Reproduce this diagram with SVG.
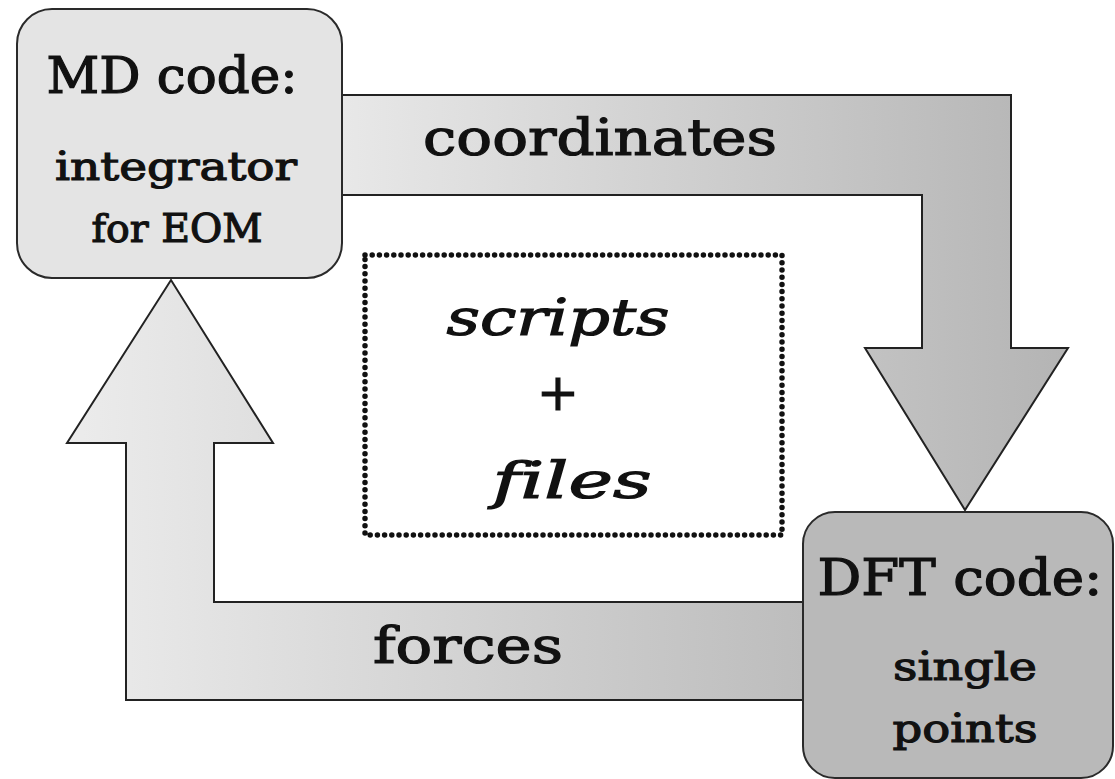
<svg xmlns="http://www.w3.org/2000/svg" width="1115" height="779" viewBox="0 0 1115 779">
<style>
.arrow{stroke:#222;stroke-width:2;stroke-linejoin:miter}
.box{stroke:#2a2a2a;stroke-width:2}
.t{font-family:"DejaVu Serif","Liberation Serif",serif;fill:#111;text-anchor:middle;stroke:#111;stroke-width:1.2;font-variant-ligatures:none}
.big{font-size:50px}
.small{font-size:40px}
.it{font-style:italic}
</style>
<defs>
<linearGradient id="gTop" gradientUnits="userSpaceOnUse" x1="342" y1="0" x2="1068" y2="0">
<stop offset="0" stop-color="#e8e8e8"/><stop offset="1" stop-color="#b4b4b4"/>
</linearGradient>
<linearGradient id="gBot" gradientUnits="userSpaceOnUse" x1="67" y1="0" x2="803" y2="0">
<stop offset="0" stop-color="#ececec"/><stop offset="1" stop-color="#bdbdbd"/>
</linearGradient>
</defs>
<g id="connectors">
<polygon class="arrow" fill="url(#gTop)" points="342,95 1011,95 1011,348 1068,348 965,510 865,348 922,348 922,195 342,195"/>
<polygon class="arrow" fill="url(#gBot)" points="803,602 214,602 214,443 273,443 171,280 67,443 126,443 126,700 803,700"/>
<text class="t big" x="600" y="155" textLength="354" lengthAdjust="spacingAndGlyphs">coordinates</text>
<text class="t big" x="468" y="663" textLength="190" lengthAdjust="spacingAndGlyphs">forces</text>
</g>
<g id="md">
<rect class="box" x="17" y="9" width="325" height="269" rx="35" fill="#e4e4e4"/>
<text class="t big" x="172" y="93" textLength="251" lengthAdjust="spacingAndGlyphs">MD code:</text>
<text class="t small" x="176" y="180" textLength="242" lengthAdjust="spacingAndGlyphs">integrator</text>
<text class="t small" x="177" y="242" textLength="171" lengthAdjust="spacingAndGlyphs">for EOM</text>
</g>
<g id="dft">
<rect class="box" x="803" y="512" width="310" height="266" rx="32" fill="#b9b9b9"/>
<text class="t big" x="960" y="595" textLength="285" lengthAdjust="spacingAndGlyphs">DFT code:</text>
<text class="t small" x="965" y="680" textLength="144" lengthAdjust="spacingAndGlyphs">single</text>
<text class="t small" x="965" y="742" textLength="145" lengthAdjust="spacingAndGlyphs">points</text>
</g>
<g id="scripts">
<rect x="365" y="255" width="417" height="280" fill="none" stroke="#111" stroke-width="5.5" stroke-linecap="round" stroke-dasharray="0 7.2"/>
<text class="t big it" x="558" y="335" textLength="223" lengthAdjust="spacingAndGlyphs">scripts</text>
<text class="t big it" x="558" y="410">+</text>
<text class="t big it" x="572" y="498" textLength="159" lengthAdjust="spacingAndGlyphs">files</text>
</g>
</svg>
